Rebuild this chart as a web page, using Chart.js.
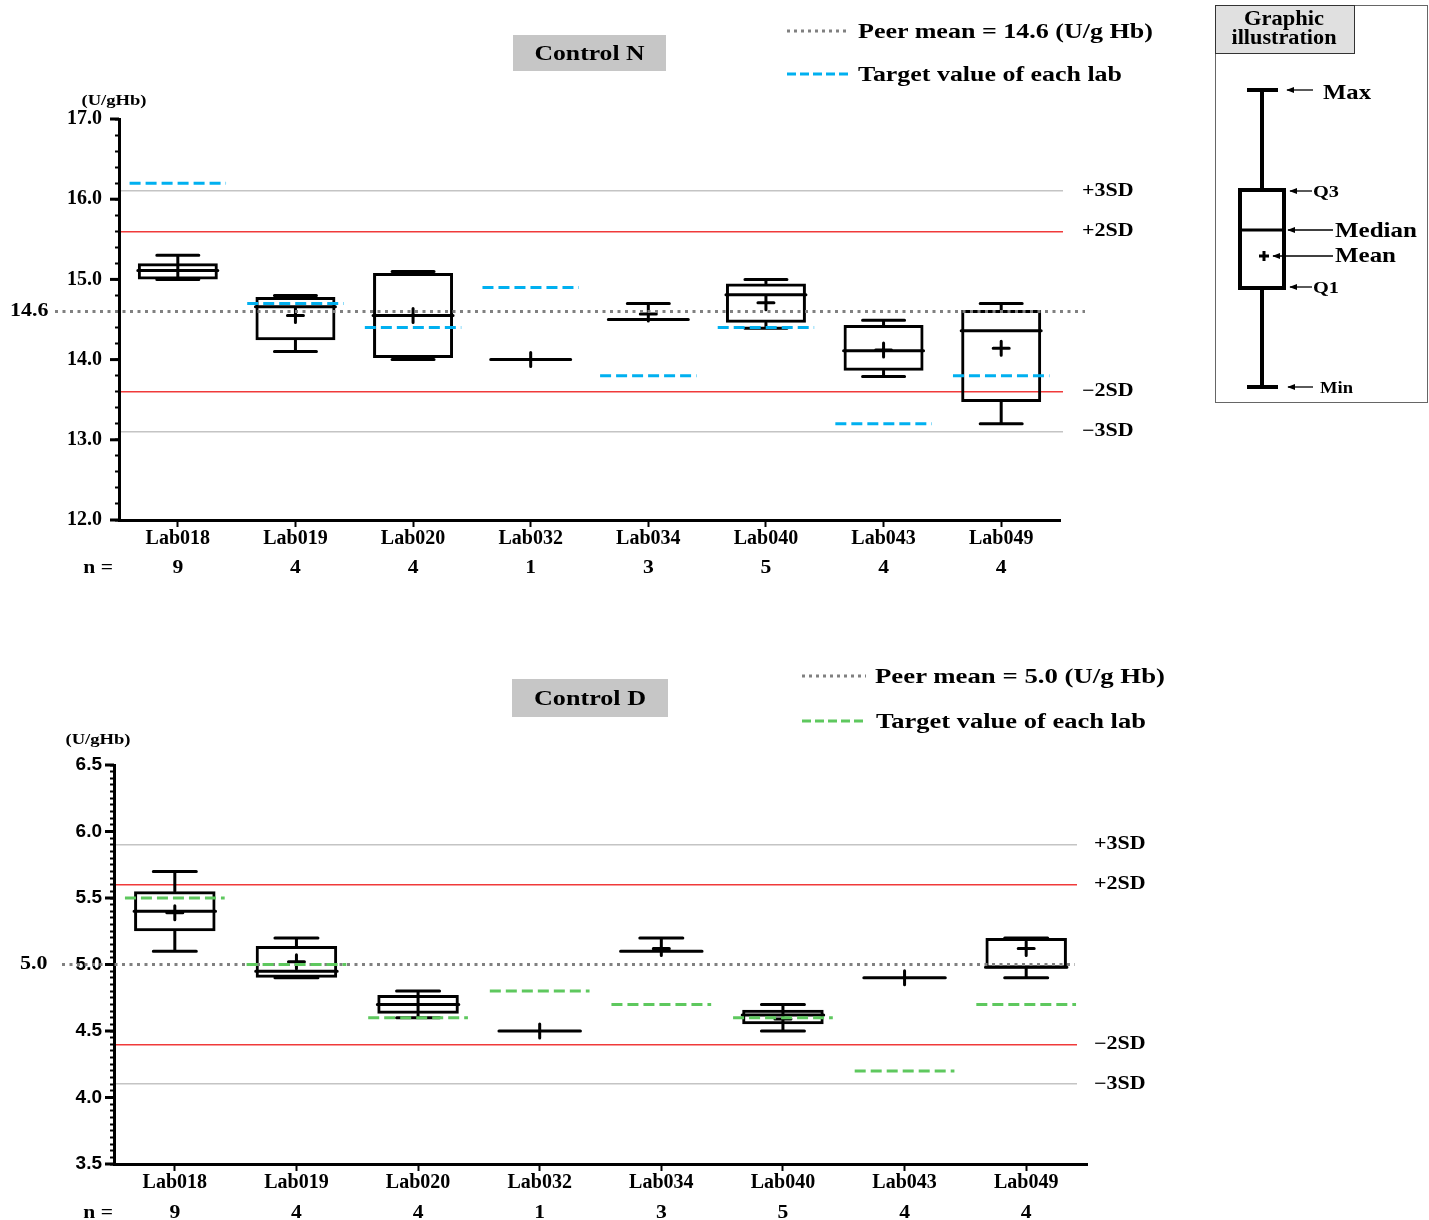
<!DOCTYPE html>
<html>
<head>
<meta charset="utf-8">
<script src="https://cdn.jsdelivr.net/npm/chart.js@4.4.1/dist/chart.umd.min.js"></script>
<style>
  html, body { margin: 0; padding: 0; background: #fff; overflow: hidden; }
  body { width: 1429px; height: 1220px; position: relative; }
  .wrap { position: absolute; left: 0; }
  #overlay { position: absolute; left: 0; top: 0; pointer-events: none; }
</style>
</head>
<body>
<div class="wrap" style="top:0;width:1200px;height:600px"><canvas id="chartN"></canvas></div>
<div class="wrap" style="top:640px;width:1200px;height:590px"><canvas id="chartD"></canvas></div>

<svg id="overlay" width="1429" height="1220" font-family="Liberation Serif, Times New Roman, serif" font-weight="bold">
  <defs>
    <marker id="ah" viewBox="0 0 10 10" refX="9" refY="5" markerWidth="6" markerHeight="6" orient="auto">
      <path d="M0,1 L10,5 L0,9 z" fill="#000"/>
    </marker>
  </defs>

  <!-- titles -->
  <rect x="513" y="35" width="153" height="36" fill="#c6c6c6"/>
  <text x="589.5" y="60" font-size="21" text-anchor="middle" textLength="110" lengthAdjust="spacingAndGlyphs">Control N</text>
  <rect x="512" y="679" width="156" height="38" fill="#c6c6c6"/>
  <text x="590" y="705" font-size="21" text-anchor="middle" textLength="112" lengthAdjust="spacingAndGlyphs">Control D</text>

  <!-- legends -->
  <line x1="787" y1="31" x2="850" y2="31" stroke="#808080" stroke-width="3" stroke-dasharray="3 4"/>
  <text x="858" y="38" font-size="20" textLength="295" lengthAdjust="spacingAndGlyphs">Peer mean = 14.6 (U/g Hb)</text>
  <line x1="787" y1="74" x2="850" y2="74" stroke="#00b0f0" stroke-width="3" stroke-dasharray="9 4"/>
  <text x="858" y="81" font-size="20" textLength="264" lengthAdjust="spacingAndGlyphs">Target value of each lab</text>

  <line x1="802" y1="676" x2="866" y2="676" stroke="#808080" stroke-width="3" stroke-dasharray="3 4"/>
  <text x="875" y="683" font-size="20" textLength="290" lengthAdjust="spacingAndGlyphs">Peer mean = 5.0 (U/g Hb)</text>
  <line x1="802" y1="721" x2="866" y2="721" stroke="#5ec85e" stroke-width="3" stroke-dasharray="9 4"/>
  <text x="876" y="728" font-size="20" textLength="270" lengthAdjust="spacingAndGlyphs">Target value of each lab</text>

  <!-- graphic illustration -->
  <rect x="1215.5" y="5.5" width="212" height="397" fill="#fff" stroke="#666" stroke-width="1"/>
  <rect x="1215.5" y="5.5" width="139" height="48" fill="#e0e0e0" stroke="#333" stroke-width="1"/>
  <text x="1284" y="25" font-size="20" text-anchor="middle" textLength="80" lengthAdjust="spacingAndGlyphs">Graphic</text>
  <text x="1284" y="44" font-size="20" text-anchor="middle" textLength="105" lengthAdjust="spacingAndGlyphs">illustration</text>

  <g stroke="#000" stroke-width="4" fill="none">
    <line x1="1262" y1="90" x2="1262" y2="190"/>
    <line x1="1262" y1="288" x2="1262" y2="387"/>
    <line x1="1247" y1="90" x2="1278" y2="90"/>
    <line x1="1247" y1="387" x2="1278" y2="387"/>
    <rect x="1240" y="190" width="44" height="98"/>
    <line x1="1240" y1="230" x2="1284" y2="230" stroke-width="3"/>
    <line x1="1259" y1="256" x2="1269" y2="256" stroke-width="3"/>
    <line x1="1264" y1="251" x2="1264" y2="261" stroke-width="3"/>
  </g>
  <g stroke="#000" stroke-width="1.3" marker-end="url(#ah)">
    <line x1="1313" y1="90" x2="1287" y2="90"/>
    <line x1="1312" y1="191" x2="1290" y2="191"/>
    <line x1="1333" y1="230" x2="1288" y2="230"/>
    <line x1="1333" y1="256" x2="1273" y2="256"/>
    <line x1="1312" y1="287" x2="1290" y2="287"/>
    <line x1="1313" y1="387" x2="1288" y2="387"/>
  </g>
  <text x="1323" y="99" font-size="22" textLength="48" lengthAdjust="spacingAndGlyphs">Max</text>
  <text x="1313" y="197" font-size="16" textLength="26" lengthAdjust="spacingAndGlyphs">Q3</text>
  <text x="1335" y="237" font-size="22" textLength="82" lengthAdjust="spacingAndGlyphs">Median</text>
  <text x="1335" y="262" font-size="22" textLength="61" lengthAdjust="spacingAndGlyphs">Mean</text>
  <text x="1313" y="293" font-size="16" textLength="26" lengthAdjust="spacingAndGlyphs">Q1</text>
  <text x="1320" y="393" font-size="16" textLength="33" lengthAdjust="spacingAndGlyphs">Min</text>
</svg>

<script>
const labs = ['Lab018', 'Lab019', 'Lab020', 'Lab032', 'Lab034', 'Lab040', 'Lab043', 'Lab049'];
const nCounts = [9, 4, 4, 1, 3, 5, 4, 4];

// Control N (U/gHb)
const nMin    = [15.0, 14.1, 14.0, 14.0, 14.5, 14.39, 13.79, 13.2];
const nQ1     = [15.0, 14.24, 14.02, 14.0, 14.5, 14.46, 13.86, 13.47];
const nMedian = [15.11, 14.66, 14.55, 14.0, 14.5, 14.81, 14.11, 14.36];
const nQ3     = [15.2, 14.78, 15.08, 14.0, 14.5, 14.95, 14.43, 14.62];
const nMax    = [15.3, 14.8, 15.1, 14.0, 14.7, 15.0, 14.49, 14.7];
const nMean   = [15.11, 14.55, 14.55, 14.0, 14.57, 14.71, 14.12, 14.14];
const nTarget = [16.2, 14.7, 14.4, 14.9, 13.8, 14.4, 13.2, 13.8];
const nPeerMean = 14.6;
const nSD = [16.1, 15.6, 13.6, 13.1];

// Control D (U/gHb)
const dMin    = [5.1, 4.9, 4.6, 4.5, 5.1, 4.5, 4.9, 4.9];
const dQ1     = [5.25, 4.9, 4.63, 4.5, 5.1, 4.55, 4.9, 4.97];
const dMedian = [5.4, 4.95, 4.7, 4.5, 5.1, 4.62, 4.9, 4.98];
const dQ3     = [5.55, 5.14, 4.77, 4.5, 5.1, 4.66, 4.9, 5.2];
const dMax    = [5.7, 5.2, 4.8, 4.5, 5.2, 4.7, 4.9, 5.2];
const dMean   = [5.39, 5.02, 4.7, 4.5, 5.12, 4.59, 4.9, 5.12];
const dTarget = [5.5, 5.0, 4.6, 4.8, 4.7, 4.6, 4.2, 4.7];
const dPeerMean = 5.0;
const dSD = [5.9, 5.6, 4.4, 4.1];

const sdLabels = ['+3SD', '+2SD', '\u22122SD', '\u22123SD'];
const sdColors = ['#c4c4c4', '#f03a3a', '#f03a3a', '#c4c4c4'];

const SERIF = '"Liberation Serif", "Times New Roman", serif';
const SANS = '"Liberation Sans", Arial, sans-serif';

// bold serif text, stretched a bit horizontally like the original
function textFit(ctx, str, x, y, size, align, stretch) {
  ctx.save();
  ctx.font = 'bold ' + size + 'px ' + SERIF;
  ctx.fillStyle = '#000';
  ctx.textBaseline = 'middle';
  ctx.textAlign = 'left';
  const w = ctx.measureText(str).width * stretch;
  let left = x;
  if (align === 'center') left = x - w / 2;
  else if (align === 'right') left = x - w;
  ctx.translate(left, y);
  ctx.scale(stretch, 1);
  ctx.fillText(str, 0, 0);
  ctx.restore();
}

function boxExtras(s) {
  return {
    id: 'boxExtras',
    beforeDatasetsDraw(chart) {
      const { ctx, chartArea: a, scales: { y } } = chart;
      ctx.save();
      s.sd.forEach((v, i) => {
        const py = y.getPixelForValue(v);
        ctx.fillStyle = sdColors[i];
        ctx.fillRect(a.left + 2, Math.round(py - 0.75), a.right + s.sdOver - a.left - 2, 1.5);
      });
      ctx.restore();
    },
    afterDatasetsDraw(chart) {
      const { ctx, chartArea: a, scales: { x, y } } = chart;
      const bars = chart.getDatasetMeta(0).data;
      const catW = x.getPixelForValue(1) - x.getPixelForValue(0);
      const py = v => y.getPixelForValue(v);
      ctx.save();
      ctx.strokeStyle = '#000';
      ctx.lineWidth = 3;
      ctx.lineCap = 'round';
      bars.forEach((bar, i) => {
        const cx = bar.x, half = bar.width / 2, cap = s.capWidth / 2;
        ctx.beginPath();
        ctx.moveTo(cx, py(s.q3[i])); ctx.lineTo(cx, py(s.max[i]));
        ctx.moveTo(cx - cap, py(s.max[i])); ctx.lineTo(cx + cap, py(s.max[i]));
        ctx.moveTo(cx, py(s.q1[i])); ctx.lineTo(cx, py(s.min[i]));
        ctx.moveTo(cx - cap, py(s.min[i])); ctx.lineTo(cx + cap, py(s.min[i]));
        ctx.moveTo(cx - half, py(s.median[i])); ctx.lineTo(cx + half, py(s.median[i]));
        const my = py(s.mean[i]);
        ctx.moveTo(cx - 8, my); ctx.lineTo(cx + 8, my);
        ctx.moveTo(cx, my - 7); ctx.lineTo(cx, my + 7);
        ctx.stroke();
      });

      // peer mean
      ctx.lineCap = 'butt';
      ctx.strokeStyle = '#808080';
      ctx.setLineDash([3, 4.5]);
      const pm = py(s.peerMean);
      ctx.beginPath();
      ctx.moveTo(s.meanFrom, pm);
      ctx.lineTo(a.right + s.meanOver, pm);
      ctx.stroke();

      // target of each lab
      ctx.strokeStyle = s.targetColor;
      ctx.setLineDash([11, 5]);
      bars.forEach((bar, i) => {
        const ty = py(s.target[i]);
        ctx.beginPath();
        ctx.moveTo(bar.x - catW * 0.41, ty);
        ctx.lineTo(bar.x + catW * 0.41, ty);
        ctx.stroke();
      });
      ctx.restore();
    },
    afterDraw(chart) {
      const { ctx, chartArea: a, scales: { y } } = chart;
      // longer marks on the major y ticks
      ctx.save();
      ctx.strokeStyle = '#000';
      ctx.lineWidth = 3;
      y.ticks.forEach(t => {
        if (!s.isMajor(t.value)) return;
        const ty = y.getPixelForValue(t.value);
        ctx.beginPath();
        ctx.moveTo(a.left - 9, ty);
        ctx.lineTo(a.left, ty);
        ctx.stroke();
      });
      ctx.restore();

      s.sd.forEach((v, i) => {
        textFit(ctx, sdLabels[i], a.right + s.sdLabelDx, y.getPixelForValue(v), 18, 'left', 1.22);
      });
      textFit(ctx, s.peerMean.toFixed(1), s.meanLabelX, y.getPixelForValue(s.peerMean), 18, 'left', 1.22);
      textFit(ctx, '(U/gHb)', s.unitsX, s.unitsY, 15, 'center', 1.24);
      textFit(ctx, 'n =', s.nLabelRight, s.nRowY, 18, 'right', 1.2);
      chart.getDatasetMeta(0).data.forEach((bar, i) => {
        textFit(ctx, String(nCounts[i]), bar.x, s.nRowY, 18, 'center', 1.2);
      });
    }
  };
}

function buildChart(id, s) {
  s.isMajor = v => Math.abs(v / s.major - Math.round(v / s.major)) < 1e-6;
  return new Chart(document.getElementById(id), {
    type: 'bar',
    data: {
      labels: labs,
      datasets: [{
        data: s.q1.map((v, i) => [v, s.q3[i]]),
        backgroundColor: 'rgba(0,0,0,0)',
        borderColor: '#000',
        borderWidth: 3,
        borderSkipped: false,
        barPercentage: s.barPct,
        categoryPercentage: 1
      }]
    },
    options: {
      responsive: true,
      maintainAspectRatio: false,
      animation: false,
      events: [],
      layout: { padding: { top: s.padTop, right: s.padRight, left: 0, bottom: 0 } },
      plugins: { legend: { display: false }, tooltip: { enabled: false } },
      scales: {
        x: {
          grid: { drawOnChartArea: false, offset: false, tickLength: 7, tickWidth: 2, tickColor: '#000' },
          border: { width: 3, color: '#000' },
          ticks: { color: '#000', padding: 0, font: { family: SERIF, size: 20, weight: 'bold' } },
          afterFit: sc => { sc.height = s.xHeight; }
        },
        y: {
          min: s.yMin,
          max: s.yMax,
          grid: { drawOnChartArea: false, tickLength: 4, tickWidth: 2, tickColor: '#000' },
          border: { width: 3, color: '#000' },
          ticks: {
            stepSize: s.step, autoSkip: false, maxTicksLimit: 200,
            color: '#000', padding: s.tickPad,
            font: { family: s.tickFont, size: s.tickSize, weight: 'bold' },
            callback: v => s.isMajor(v) ? v.toFixed(1) : ''
          },
          afterFit: sc => { sc.width = s.yWidth; }
        }
      }
    },
    plugins: [boxExtras(s)]
  });
}

buildChart('chartN', {
  min: nMin, q1: nQ1, median: nMedian, q3: nQ3, max: nMax, mean: nMean, target: nTarget,
  peerMean: nPeerMean, sd: nSD, targetColor: '#00b0f0',
  yMin: 12, yMax: 17, step: 0.2, major: 1, tickFont: SERIF, tickSize: 20, tickPad: 13,
  padTop: 119, padRight: 140, yWidth: 119, xHeight: 80,
  barPct: 0.68, capWidth: 42,
  sdOver: 3, sdLabelDx: 22, meanFrom: 55, meanOver: 25, meanLabelX: 10,
  unitsX: 114, unitsY: 101, nRowY: 568, nLabelRight: 113
});

buildChart('chartD', {
  min: dMin, q1: dQ1, median: dMedian, q3: dQ3, max: dMax, mean: dMean, target: dTarget,
  peerMean: dPeerMean, sd: dSD, targetColor: '#5ec85e',
  yMin: 3.5, yMax: 6.5, step: 0.05, major: 0.5, tickFont: SANS, tickSize: 19, tickPad: 8,
  padTop: 125, padRight: 113, yWidth: 114, xHeight: 66,
  barPct: 0.67, capWidth: 43,
  sdOver: -10, sdLabelDx: 7, meanFrom: 62, meanOver: -12, meanLabelX: 20,
  unitsX: 98, unitsY: 100, nRowY: 573, nLabelRight: 113
});
</script>
</body>
</html>
